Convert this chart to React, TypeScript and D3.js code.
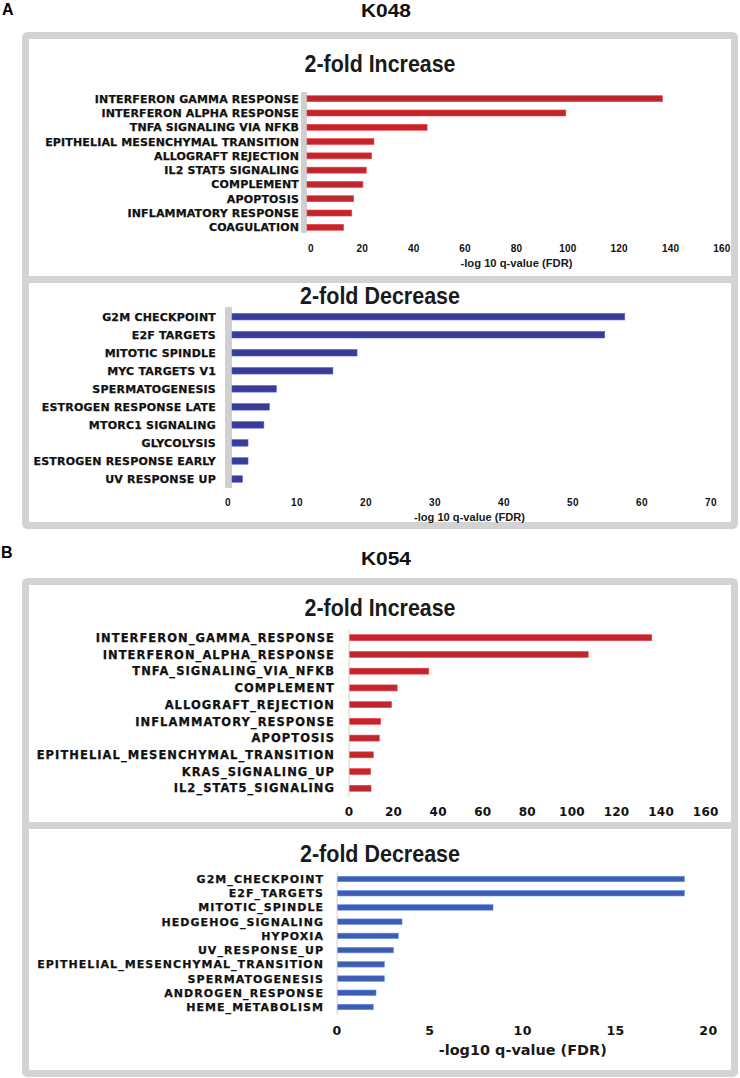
import React from "react";
import * as d3 from "d3";

// ---------- data ----------
const k048IncCats = [
  "INTERFERON GAMMA RESPONSE",
  "INTERFERON ALPHA RESPONSE",
  "TNFA SIGNALING VIA NFKB",
  "EPITHELIAL MESENCHYMAL TRANSITION",
  "ALLOGRAFT REJECTION",
  "IL2 STAT5 SIGNALING",
  "COMPLEMENT",
  "APOPTOSIS",
  "INFLAMMATORY RESPONSE",
  "COAGULATION",
];
const k048IncVals = [136.8, 99.2, 45.2, 24.5, 23.6, 21.5, 20.2, 16.6, 15.9, 12.7];
const k048IncTicks = [0, 20, 40, 60, 80, 100, 120, 140, 160];

const k048DecCats = [
  "G2M CHECKPOINT",
  "E2F TARGETS",
  "MITOTIC SPINDLE",
  "MYC TARGETS V1",
  "SPERMATOGENESIS",
  "ESTROGEN RESPONSE LATE",
  "MTORC1 SIGNALING",
  "GLYCOLYSIS",
  "ESTROGEN RESPONSE EARLY",
  "UV RESPONSE UP",
];
const k048DecVals = [57.5, 54.6, 18.7, 15.2, 7.0, 6.0, 5.2, 2.9, 2.9, 2.1];
const k048DecTicks = [0, 10, 20, 30, 40, 50, 60, 70];

const k054IncCats = [
  "INTERFERON_GAMMA_RESPONSE",
  "INTERFERON_ALPHA_RESPONSE",
  "TNFA_SIGNALING_VIA_NFKB",
  "COMPLEMENT",
  "ALLOGRAFT_REJECTION",
  "INFLAMMATORY_RESPONSE",
  "APOPTOSIS",
  "EPITHELIAL_MESENCHYMAL_TRANSITION",
  "KRAS_SIGNALING_UP",
  "IL2_STAT5_SIGNALING",
];
const k054IncVals = [135.8, 107.3, 35.8, 21.6, 19.1, 14.2, 13.6, 10.9, 9.7, 9.9];
const k054IncTicks = [0, 20, 40, 60, 80, 100, 120, 140, 160];

const k054DecCats = [
  "G2M_CHECKPOINT",
  "E2F_TARGETS",
  "MITOTIC_SPINDLE",
  "HEDGEHOG_SIGNALING",
  "HYPOXIA",
  "UV_RESPONSE_UP",
  "EPITHELIAL_MESENCHYMAL_TRANSITION",
  "SPERMATOGENESIS",
  "ANDROGEN_RESPONSE",
  "HEME_METABOLISM",
];
const k054DecVals = [18.7, 18.7, 8.4, 3.5, 3.3, 3.04, 2.55, 2.55, 2.1, 1.95];
const k054DecTicks = [0, 5, 10, 15, 20];

// ---------- layout ----------
const W = 740;
const H = 1078;
const FRAME_X0 = 22;
const FRAME_X1 = 738;
const BORDER = 7;

type PanelProps = {
  frameTop: number;
  frameBottom: number;
  title: string;
  titleY: number;
  titleWidth: number;
  cats: string[];
  vals: number[];
  ticks: number[];
  x0: number;
  x1: number;
  rowFirst: number;
  rowLast: number;
  barH: number;
  color: string;
  labelRight: number;
  labelFont: number;
  labelSpacing: number;
  axisLeft: number;
  axisWidth: number;
  axisColor: string;
  axisTop: number;
  axisBottom: number;
  tickY: number;
  tickFont: number;
  tickFamily: string;
  tickSpacing: number;
  xLabel?: string;
  xLabelY?: number;
  xLabelFont?: number;
  xLabelFamily?: string;
  xLabelWidth?: number;
};

function Panel(p: PanelProps) {
  const x = d3
    .scaleLinear()
    .domain([p.ticks[0], p.ticks[p.ticks.length - 1]])
    .range([p.x0, p.x1]);
  const y = d3.scalePoint<string>().domain(p.cats).range([p.rowFirst, p.rowLast]);
  const barStart = p.axisLeft + p.axisWidth;
  return (
    <g>
      <rect
        x={FRAME_X0 + BORDER / 2}
        y={p.frameTop + BORDER / 2}
        width={FRAME_X1 - FRAME_X0 - BORDER}
        height={p.frameBottom - p.frameTop - BORDER}
        fill="#ffffff"
        stroke="#d3d3d3"
        strokeWidth={BORDER}
        rx={2}
      />
      <text
        x={380}
        y={p.titleY}
        dy="0.35em"
        textAnchor="middle"
        fontFamily="'Liberation Sans Narrow', 'Liberation Sans', Arial, sans-serif"
        fontWeight="bold"
        fontSize={24}
        fill="#1a1a1a"
        textLength={p.titleWidth}
        lengthAdjust="spacingAndGlyphs"
      >
        {p.title}
      </text>
      <rect
        x={p.axisLeft}
        y={p.axisTop}
        width={p.axisWidth}
        height={p.axisBottom - p.axisTop}
        fill={p.axisColor}
      />
      {p.cats.map((c, i) => (
        <g key={c}>
          <text
            x={p.labelRight}
            y={y(c)}
            dy="0.36em"
            textAnchor="end"
            fontFamily="'DejaVu Sans', sans-serif"
            fontWeight="bold"
            fontSize={p.labelFont}
            letterSpacing={p.labelSpacing}
            fill="#111"
            stroke="#111"
            strokeWidth={0.25}
          >
            {c}
          </text>
          <rect
            x={barStart}
            y={(y(c) as number) - p.barH / 2}
            width={Math.max(0, x(p.vals[i]) - barStart)}
            height={p.barH}
            fill={p.color}
            stroke={d3.color(p.color)!.brighter(1.2).formatHex()}
            strokeWidth={0.6}
          />
        </g>
      ))}
      {p.ticks.map((t) => (
        <text
          key={t}
          x={x(t)}
          y={p.tickY}
          dy="0.35em"
          textAnchor="middle"
          fontFamily={p.tickFamily}
          fontWeight="bold"
          fontSize={p.tickFont}
          letterSpacing={p.tickSpacing}
          fill="#111"
        >
          {t}
        </text>
      ))}
      {p.xLabel && (
        <text
          x={(p.x0 + p.x1) / 2}
          y={p.xLabelY}
          dy="0.35em"
          textAnchor="middle"
          fontFamily={p.xLabelFamily}
          fontWeight="bold"
          fontSize={p.xLabelFont}
          fill="#1a1a1a"
          textLength={p.xLabelWidth}
          lengthAdjust="spacingAndGlyphs"
        >
          {p.xLabel}
        </text>
      )}
    </g>
  );
}

export default function App() {
  return (
    <svg
      width={W}
      height={H}
      viewBox={`0 0 ${W} ${H}`}
      style={{ position: "absolute", left: 0, top: 0, background: "#fff" }}
    >
      <rect x={0} y={0} width={W} height={H} fill="#fff" />
      {/* Section A */}
      <text x={2} y={15} fontFamily="'Liberation Sans', Arial, sans-serif" fontWeight="bold" fontSize={16} fill="#000">
        A
      </text>
      <text
        x={386}
        y={17}
        textAnchor="middle"
        fontFamily="'Liberation Sans Narrow', 'Liberation Sans', Arial, sans-serif"
        fontWeight="bold"
        fontSize={18}
        fill="#111"
        textLength={50}
        lengthAdjust="spacingAndGlyphs"
      >
        K048
      </text>
      <Panel
        frameTop={32}
        frameBottom={284}
        title="2-fold Increase"
        titleY={63.5}
        titleWidth={151}
        cats={k048IncCats}
        vals={k048IncVals}
        ticks={k048IncTicks}
        x0={311}
        x1={722}
        rowFirst={98.7}
        rowLast={227.3}
        barH={6}
        color="#c0272d"
        labelRight={299}
        labelFont={11}
        labelSpacing={0.15}
        axisLeft={301}
        axisWidth={6}
        axisColor="#d0d0d0"
        axisTop={92}
        axisBottom={233}
        tickY={248}
        tickFont={10}
        tickFamily="'Liberation Sans', Arial, sans-serif"
        tickSpacing={0.2}
        xLabel="-log 10 q-value (FDR)"
        xLabelY={263}
        xLabelFont={10.5}
        xLabelFamily="'Liberation Sans', Arial, sans-serif"
        xLabelWidth={112}
      />
      <Panel
        frameTop={276}
        frameBottom={529}
        title="2-fold Decrease"
        titleY={296}
        titleWidth={160}
        cats={k048DecCats}
        vals={k048DecVals}
        ticks={k048DecTicks}
        x0={228}
        x1={711}
        rowFirst={316.7}
        rowLast={479}
        barH={6.5}
        color="#3a3a97"
        labelRight={216}
        labelFont={11}
        labelSpacing={0.2}
        axisLeft={225}
        axisWidth={7}
        axisColor="#d0d0d0"
        axisTop={307}
        axisBottom={488}
        tickY={502}
        tickFont={10}
        tickFamily="'Liberation Sans', Arial, sans-serif"
        tickSpacing={0.4}
        xLabel="-log 10 q-value (FDR)"
        xLabelY={517}
        xLabelFont={10.5}
        xLabelFamily="'Liberation Sans', Arial, sans-serif"
        xLabelWidth={111}
      />
      {/* Section B */}
      <text x={1} y={558} fontFamily="'Liberation Sans', Arial, sans-serif" fontWeight="bold" fontSize={16} fill="#000">
        B
      </text>
      <text
        x={386}
        y={565}
        textAnchor="middle"
        fontFamily="'Liberation Sans Narrow', 'Liberation Sans', Arial, sans-serif"
        fontWeight="bold"
        fontSize={18}
        fill="#111"
        textLength={50}
        lengthAdjust="spacingAndGlyphs"
      >
        K054
      </text>
      <Panel
        frameTop={578}
        frameBottom={831}
        title="2-fold Increase"
        titleY={607.5}
        titleWidth={151}
        cats={k054IncCats}
        vals={k054IncVals}
        ticks={k054IncTicks}
        x0={349}
        x1={705.7}
        rowFirst={637.7}
        rowLast={788.3}
        barH={6}
        color="#c0272d"
        labelRight={335}
        labelFont={11.5}
        labelSpacing={1.05}
        axisLeft={348.5}
        axisWidth={1.2}
        axisColor="#d9d9d9"
        axisTop={629}
        axisBottom={797}
        tickY={812}
        tickFont={12}
        tickFamily="'DejaVu Sans', sans-serif"
        tickSpacing={0.2}
      />
      <Panel
        frameTop={822}
        frameBottom={1077}
        title="2-fold Decrease"
        titleY={853.5}
        titleWidth={160}
        cats={k054DecCats}
        vals={k054DecVals}
        ticks={k054DecTicks}
        x0={337}
        x1={708.5}
        rowFirst={879}
        rowLast={1007}
        barH={5.5}
        color="#3f5db0"
        labelRight={324}
        labelFont={11}
        labelSpacing={1.05}
        axisLeft={336.5}
        axisWidth={1.2}
        axisColor="#d9d9d9"
        axisTop={872}
        axisBottom={1015}
        tickY={1031}
        tickFont={12.5}
        tickFamily="'DejaVu Sans', sans-serif"
        tickSpacing={0.5}
        xLabel="-log10 q-value (FDR)"
        xLabelY={1050}
        xLabelFont={14}
        xLabelFamily="'DejaVu Sans', sans-serif"
        xLabelWidth={168}
      />
    </svg>
  );
}
